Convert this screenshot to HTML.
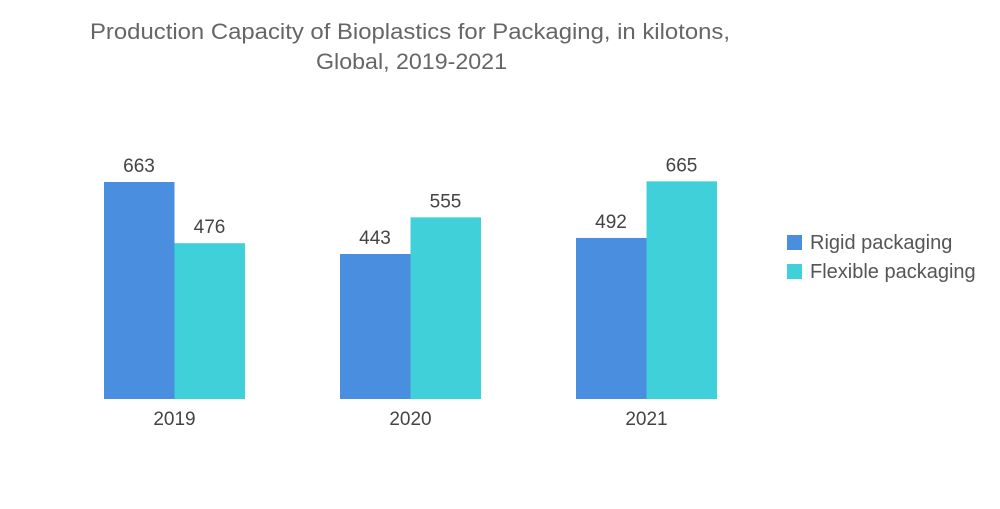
<!DOCTYPE html>
<html><head><meta charset="utf-8"><style>
body{margin:0;background:#fff;font-family:"Liberation Sans",sans-serif;}
svg text{font-family:"Liberation Sans",sans-serif;}
</style></head><body>
<svg width="1000" height="504">
<text x="90" y="39" textLength="640" lengthAdjust="spacingAndGlyphs" font-size="22" fill="#666">Production Capacity of Bioplastics for Packaging, in kilotons,</text>
<text x="316" y="69" textLength="191" lengthAdjust="spacingAndGlyphs" font-size="22" fill="#666">Global, 2019-2021</text>
<g id="bars"></g>
<rect x="787" y="235" width="15" height="15" fill="#4a8ee0"/>
<text x="810" y="249" font-size="20" fill="#555">Rigid packaging</text>
<rect x="787" y="264" width="15" height="15" fill="#3fd0d9"/>
<text x="810" y="278" font-size="20" fill="#555">Flexible packaging</text>
</svg>
<script>
const categories=["2019","2020","2021"];
const rigid=[663,443,492];
const flexible=[476,555,665];
const base=399, scale=217/663;
const y=v=>base-v*scale;
const gx=i=>104+i*236;
const g=document.getElementById('bars');
const NS="http://www.w3.org/2000/svg";
function bar(x,v,color,name){
  const r=document.createElementNS(NS,'rect');
  r.setAttribute('x',x);r.setAttribute('y',y(v));r.setAttribute('width',70.5);r.setAttribute('height',base-y(v));r.setAttribute('fill',color);
  
  
  g.appendChild(r);
  const t=document.createElementNS(NS,'text');
  t.setAttribute('x',x+35);t.setAttribute('y',y(v)-10);t.setAttribute('text-anchor','middle');t.setAttribute('font-size','19');t.setAttribute('fill','#444');
  t.textContent=v;
  
  
  g.appendChild(t);
}
categories.forEach((c,i)=>{
  bar(gx(i),rigid[i],'#4a8ee0','bar-rigid-'+c);
  bar(gx(i)+70.5,flexible[i],'#3fd0d9','bar-flexible-'+c);
  const t=document.createElementNS(NS,'text');
  t.setAttribute('x',gx(i)+70.5);t.setAttribute('y',425);t.setAttribute('text-anchor','middle');t.setAttribute('font-size','19');t.setAttribute('fill','#444');
  t.textContent=c;
  
  
  g.appendChild(t);
});
</script>
</body></html>
